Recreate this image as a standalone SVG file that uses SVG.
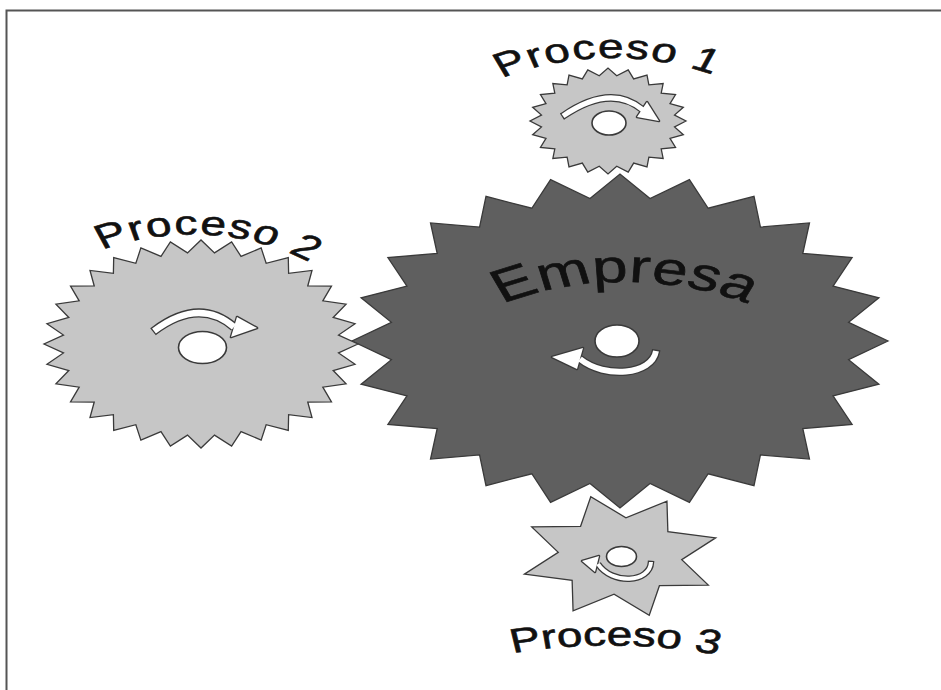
<svg xmlns="http://www.w3.org/2000/svg" width="941" height="690" viewBox="0 0 941 690">
<defs>
<style>
.gear { stroke:#3a3a3a; stroke-width:1.3; stroke-linejoin:miter; }
.dark { fill:#5f5f5f; }
.light { fill:#c6c6c6; }
.hole { fill:#ffffff; stroke:#3a3a3a; stroke-width:1.6; }
.band-o { fill:none; stroke:#3a3a3a; stroke-linecap:butt; }
.band-i { fill:none; stroke:#ffffff; stroke-linecap:butt; }
.head-o { fill:#3a3a3a; stroke:#3a3a3a; stroke-width:2.6; stroke-linejoin:round; }
.head-i { fill:#ffffff; }
.lbl { font-family:"Liberation Sans", Arial, Helvetica, sans-serif; fill:#111111; stroke:#111111; stroke-width:0.6; }
.frame { fill:none; stroke:#555555; stroke-width:2; }
</style>
<path id="g24" vector-effect="non-scaling-stroke" d="M1,0 L.853,.112 .966,.259 .795,.329 .866,.5 .682,.524 .707,.707 .524,.682 .5,.866 .329,.795 .259,.966 .112,.853 0,1 -.112,.853 -.259,.966 -.329,.795 -.5,.866 -.524,.682 -.707,.707 -.682,.524 -.866,.5 -.795,.329 -.966,.259 -.853,.112 -1,0 -.853,-.112 -.966,-.259 -.795,-.329 -.866,-.5 -.682,-.524 -.707,-.707 -.524,-.682 -.5,-.866 -.329,-.795 -.259,-.966 -.112,-.853 0,-1 .112,-.853 .259,-.966 .329,-.795 .5,-.866 .524,-.682 .707,-.707 .682,-.524 .866,-.5 .795,-.329 .966,-.259 .853,-.112 Z"/>
<path id="g32" vector-effect="non-scaling-stroke" d="M1,0 L.876,.086 .981,.195 .842,.255 .924,.383 .776,.415 .831,.556 .680,.558 .707,.707 .558,.680 .556,.831 .415,.776 .383,.924 .255,.842 .195,.981 .086,.876 0,1 -.086,.876 -.195,.981 -.255,.842 -.383,.924 -.415,.776 -.556,.831 -.558,.680 -.707,.707 -.680,.558 -.831,.556 -.776,.415 -.924,.383 -.842,.255 -.981,.195 -.876,.086 -1,0 -.876,-.086 -.981,-.195 -.842,-.255 -.924,-.383 -.776,-.415 -.831,-.556 -.680,-.558 -.707,-.707 -.558,-.680 -.556,-.831 -.415,-.776 -.383,-.924 -.255,-.842 -.195,-.981 -.086,-.876 0,-1 .086,-.876 .195,-.981 .255,-.842 .383,-.924 .415,-.776 .556,-.831 .558,-.680 .707,-.707 .680,-.558 .831,-.556 .776,-.415 .924,-.383 .842,-.255 .981,-.195 .876,-.086 Z"/>
<path id="g8" vector-effect="non-scaling-stroke" d="M1,0 L.573,.237 .707,.707 .237,.573 0,1 -.237,.573 -.707,.707 -.573,.237 -1,0 -.573,-.237 -.707,-.707 -.237,-.573 0,-1 .237,-.573 .707,-.707 .573,-.237 Z"/>
<path id="arcE" d="M515,316.9 A190.7,190.7 0 0 1 735,316.9"/>
<path id="arcP1" d="M512,89.4 A175,175 0 0 1 712,89.4"/>
<path id="arcP2" d="M67,301.6 A150,150 0 0 1 317,301.6"/>
<path id="arcP3" d="M490,667 A346,346 0 0 1 730,667"/>
</defs>

<path class="frame" d="M6.5,690 V10.5 H941"/>

<g id="empresa">
  <use href="#g24" class="gear dark" transform="translate(620,341) scale(268,167)"/>
  <ellipse class="hole" cx="617" cy="341" rx="22" ry="16"/>
  <path class="band-o" stroke-width="8.5" d="M656.2,349.7 L656,351 C652,375 605,379 580,359"/>
  <polygon class="head-o" points="583,348 577,369 552,357"/>
  <path class="band-i" stroke-width="5.9" d="M656,351 C652,375 605,379 580,359"/>
  <polygon class="head-i" points="583,348 577,369 552,357"/>
  <g transform="matrix(1.38 0 0 1 -237.5 0)">
    <text class="lbl" font-size="46"><textPath href="#arcE" startOffset="50%" text-anchor="middle">Empresa</textPath></text>
  </g>
</g>

<g id="proceso1">
  <use href="#g24" class="gear light" transform="translate(608,121) scale(78,53)"/>
  <ellipse class="hole" cx="609" cy="123" rx="17" ry="12"/>
  <path class="band-o" stroke-width="7.5" d="M561.9,116.7 L563,116 Q611,83 643,110"/>
  <polygon class="head-o" points="647,102 637,117 659,121"/>
  <path class="band-i" stroke-width="5" d="M563,116 Q611,83 643,110"/>
  <polygon class="head-i" points="647,102 637,117 659,121"/>
  <g transform="matrix(1.35 0 0 1 -214.2 0)">
    <text class="lbl" font-size="34" letter-spacing="1"><textPath href="#arcP1" startOffset="22">Proceso 1</textPath></text>
  </g>
</g>

<g id="proceso2">
  <use href="#g32" class="gear light" transform="translate(201,344) scale(157,104)"/>
  <ellipse class="hole" cx="202.5" cy="347.5" rx="24" ry="16"/>
  <path class="band-o" stroke-width="9" d="M153,331.8 L154,331 Q199,297 234,327"/>
  <polygon class="head-o" points="237,317 231,337 257,328"/>
  <path class="band-i" stroke-width="6.4" d="M154,331 Q199,297 234,327"/>
  <polygon class="head-i" points="237,317 231,337 257,328"/>
  <g transform="matrix(1.35 0 0 1 -67.2 0)">
    <text class="lbl" font-size="34" letter-spacing="1"><textPath href="#arcP2" startOffset="79">Proceso 2</textPath></text>
  </g>
</g>

<g id="proceso3">
  <use href="#g8" class="gear light" transform="translate(620,556) scale(100,62) rotate(-17)"/>
  <ellipse class="hole" cx="621.5" cy="556.5" rx="15" ry="10"/>
  <path class="band-o" stroke-width="6.5" d="M651.1,560.7 L651,562 C650,583 612,585 598,564"/>
  <polygon class="head-o" points="599,556 595,572 582,561"/>
  <path class="band-i" stroke-width="4" d="M651,562 C650,583 612,585 598,564"/>
  <polygon class="head-i" points="599,556 595,572 582,561"/>
  <g transform="matrix(1.35 0 0 1 -213.5 0)">
    <text class="lbl" font-size="34"><textPath href="#arcP3" startOffset="50">Proceso 3</textPath></text>
  </g>
</g>
</svg>
